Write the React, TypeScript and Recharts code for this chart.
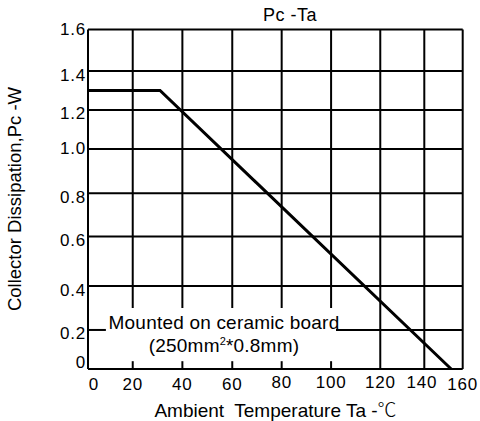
import React from 'react'
import { LineChart, Line, XAxis, YAxis, ReferenceLine } from 'recharts'

// axis labels (real units)
const tempTicks = [0, 20, 40, 60, 80, 100, 120, 140, 160]
const powerTicks = [0, 0.2, 0.4, 0.6, 0.8, 1.0, 1.2, 1.4, 1.6]

// where each labelled grid line actually sits on the (uneven) printed grid
const tempTickAt = [0, 19.1, 40.3, 61.6, 82.7, 103.8, 124.8, 143.6, 160]
const powerTickAt = [0, 0.184, 0.391, 0.624, 0.828, 1.037, 1.221, 1.404, 1.6]

// derating curve
const ambientTemp = [0, 31, 154]
const collectorPower = [1.3, 1.3, 0]

const lerp = (v: number, from: number[], to: number[]) => {
    for (let i = 1; i < from.length; i++) {
        if (v <= from[i]) {
            const t = (v - from[i - 1]) / (from[i] - from[i - 1])
            return to[i - 1] + t * (to[i] - to[i - 1])
        }
    }
    return to[to.length - 1]
}
const px = (t: number) => lerp(t, tempTicks, tempTickAt)
const py = (p: number) => lerp(p, powerTicks, powerTickAt)

const data = ambientTemp.map((t, i) => ({ x: px(t), y: py(collectorPower[i]) }))

// grid segments (real units); the note box cuts through the lower grid
const gridH: [number, number, number][] = [
    [0.2, 0, 8], [0.2, 102, 160],
    [0.4, 0, 160], [0.6, 0, 160], [0.8, 0, 160], [1.0, 0, 160],
    [1.2, 0, 160], [1.4, 0, 161.5], [1.6, 0, 160],
]
const gridV: [number, number, number][] = [
    [20, 0.3, 1.6], [40, 0.3, 1.6], [60, 0.3, 1.6], [80, 0.3, 1.6], [100, 0.3, 1.6],
    [20, 0, 0.04], [40, 0, 0.04], [60, 0, 0.04], [80, 0, 0.04], [100, 0, 0.04],
    [120, 0, 1.6], [140, 0, 1.6], [160, 0, 1.6],
]

const font = '"Liberation Sans", Arial, sans-serif'

const XTick = (props: any) => {
    const { x, y, payload } = props
    const i = tempTickAt.indexOf(payload.value)
    const label = tempTicks[i]
    const dx = label === 0 ? 6 : label === 140 ? -2.5 : 0
    const dy = label >= 80 && label <= 140 ? -2 : 0
    return (
        <text x={x + dx} y={y + 7 + dy} textAnchor="middle" dominantBaseline="central"
            fontSize={17} letterSpacing={0.8} fontFamily={font} fill="#000">{label}</text>
    )
}

const YTick = (props: any) => {
    const { x, y, payload } = props
    const i = powerTickAt.indexOf(payload.value)
    const label = powerTicks[i]
    const dy = label === 0 ? -7 : label === 1.0 || label === 1.6 ? 0 : 4
    return (
        <text x={x + 6} y={y + dy} textAnchor="end" dominantBaseline="central"
            fontSize={17} letterSpacing={0.8} fontFamily={font} fill="#000">{label === 0 ? '0' : label.toFixed(1)}</text>
    )
}

function App() {
    return (
        <div style={{ position: 'absolute', left: 0, top: 0, width: 480, height: 421, background: '#fff', fontFamily: font }}>
            <LineChart width={480} height={421} data={data}
                margin={{ top: 29.5, right: 17.3, bottom: 0, left: 28 }}>
                <XAxis type="number" dataKey="x" domain={[0, 160]} ticks={tempTickAt}
                    tick={<XTick />} tickLine={false} height={52}
                    axisLine={{ stroke: '#000', strokeWidth: 2 }} interval={0} />
                <YAxis type="number" domain={[0, 1.6]} ticks={powerTickAt}
                    tick={<YTick />} tickLine={false} width={60}
                    axisLine={{ stroke: '#000', strokeWidth: 2 }} interval={0} />
                {gridH.map(([p, a, b], i) => (
                    <ReferenceLine key={'h' + i} ifOverflow="visible" stroke="#000" strokeWidth={2}
                        segment={[{ x: px(a), y: py(p) }, { x: px(b), y: py(p) }]} />
                ))}
                {gridV.map(([t, a, b], i) => (
                    <ReferenceLine key={'v' + i} ifOverflow="visible" stroke="#000" strokeWidth={2}
                        segment={[{ x: px(t), y: py(a) }, { x: px(t), y: py(b) }]} />
                ))}
                <Line type="linear" dataKey="y" stroke="#000" strokeWidth={3}
                    dot={false} isAnimationActive={false} />
            </LineChart>
            <div style={{ position: 'absolute', left: 263, top: 5, fontSize: 18, letterSpacing: 0.5 }}>Pc -Ta</div>
            <div style={{ position: 'absolute', left: 0, width: 551, top: 395, textAlign: 'center', fontSize: 19, whiteSpace: 'pre' }}>
                {'Ambient  Temperature Ta -'}<span style={{ fontFamily: '"Noto Sans CJK SC"', fontWeight: 300 }}>{'\u2103'}</span>
            </div>
            <div style={{
                position: 'absolute', left: 15, top: 199, fontSize: 18.5, whiteSpace: 'nowrap',
                transform: 'translate(-50%, -50%) rotate(-90deg)',
            }}>Collector Dissipation,Pc -W</div>
            <div style={{ position: 'absolute', left: 100, width: 248, top: 313, textAlign: 'center', fontSize: 19, lineHeight: '19px', letterSpacing: 0.2 }}>
                Mounted on ceramic board<br />(250mm<sup style={{ fontSize: 11 }}>2</sup>*0.8mm)
            </div>
        </div>
    )
}

export default App
